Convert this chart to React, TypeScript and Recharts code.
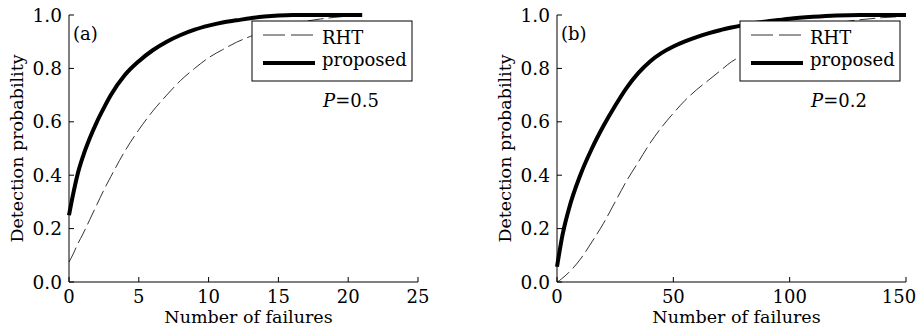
import React from 'react';
import { LineChart, Line, XAxis, YAxis, Label } from 'recharts';

// panel (a), P=0.5
const failuresA = [0, 0.3, 0.6, 1, 1.5, 2, 2.5, 3, 4, 5, 6, 7, 8, 9, 10, 11, 12, 13, 14, 15, 16, 17, 18, 19, 20, 21];
const proposedA = [0.25, 0.33, 0.4, 0.47, 0.54, 0.6, 0.652, 0.7, 0.775, 0.827, 0.868, 0.9, 0.925, 0.945, 0.96, 0.972, 0.98, 0.988, 0.994, 0.998, 1, 1, 1, 1, 1, 1];
const rhtA = [0.075, 0.105, 0.14, 0.18, 0.235, 0.29, 0.345, 0.395, 0.49, 0.57, 0.64, 0.7, 0.755, 0.8, 0.84, 0.87, 0.898, 0.92, 0.94, 0.955, 0.967, 0.977, 0.985, 0.991, 0.996, 1.0];

// panel (b), P=0.2
const failuresB = [0, 1, 2, 5, 10, 15, 20, 25, 30, 35, 40, 45, 50, 55, 60, 65, 70, 75, 80, 85, 90, 95, 100, 110, 120, 130, 140, 150];
const proposedB = [0.057, 0.11, 0.16, 0.27, 0.4, 0.5, 0.585, 0.66, 0.728, 0.783, 0.826, 0.858, 0.882, 0.901, 0.917, 0.931, 0.943, 0.953, 0.962, 0.97, 0.976, 0.981, 0.986, 0.993, 0.998, 1, 1, 1];
const rhtB = [0.0, 0.005, 0.012, 0.035, 0.085, 0.15, 0.22, 0.3, 0.38, 0.45, 0.52, 0.58, 0.632, 0.68, 0.72, 0.755, 0.79, 0.825, 0.85, 0.875, 0.895, 0.915, 0.93, 0.955, 0.97, 0.982, 0.99, 0.995];

const ticksA = [0, 5, 10, 15, 20, 25];
const ticksB = [0, 50, 100, 150];
const probTicks = [0, 0.2, 0.4, 0.6, 0.8, 1.0];

const FONT = "'DejaVu Serif', serif";
const titleStyle = { fontSize: 17.5, fill: '#000', fontFamily: FONT };
const noLabel = () => <g />;

const XTick = ({ x, y, payload }: any) => (
  // the 3-digit end label sits a bit left so it stays inside the page
  <text x={x} y={y} dy="0.71em" dx={payload.value >= 150 ? -7 : 0} textAnchor="middle"
    fontSize={18} fontFamily={FONT} fill="#000">
    {payload.value}
  </text>
);

const YTick = ({ x, y, payload }: any) => (
  <text x={x} y={y} dy="0.36em" textAnchor="end" fontSize={18.5} fontFamily={FONT} fill="#000">
    {Number(payload.value).toFixed(1)}
  </text>
);

interface PanelProps {
  xs: number[];
  proposed: number[];
  rht: number[];
  xTicks: number[];
  tag: string;
  p: string;
  width: number;
  marginLeft: number;
  marginRight: number;
}

function Panel({ xs, proposed, rht, xTicks, tag, p, width, marginLeft, marginRight }: PanelProps) {
  const data = xs.map((x, i) => ({ x, proposed: proposed[i], rht: rht[i] }));
  const xMax = xTicks[xTicks.length - 1];
  const plotLeft = marginLeft + 60;
  const lx = plotLeft + 183; // legend box left
  return (
    <div style={{ position: 'relative', width, height: 331 }}>
      <LineChart width={width} height={331} data={data}
        margin={{ top: 15, right: marginRight, bottom: 19, left: marginLeft }}>
        <XAxis dataKey="x" type="number" domain={[0, xMax]} ticks={xTicks} interval={0}
          height={30} tickSize={-5} tickMargin={13} tick={XTick}
          axisLine={{ stroke: '#000' }} tickLine={{ stroke: '#000' }}>
          <Label value="Number of failures" position="bottom" offset={-1} dx={5} style={titleStyle} />
        </XAxis>
        <XAxis xAxisId="top" orientation="top" dataKey="x" type="number" domain={[0, xMax]}
          ticks={xTicks} interval={0} height={0} tickSize={-5} tick={noLabel}
          axisLine={{ stroke: '#000' }} tickLine={{ stroke: '#000' }} />
        <YAxis type="number" domain={[0, 1]} ticks={probTicks} interval={0} width={60}
          tickSize={-5} tickMargin={12} tick={YTick}
          axisLine={{ stroke: '#000' }} tickLine={{ stroke: '#000' }}>
          <Label value="Detection probability" angle={-90} position="center" dx={-22}
            style={{ ...titleStyle, textAnchor: 'middle' }} />
        </YAxis>
        <YAxis yAxisId="right" orientation="right" type="number" domain={[0, 1]} ticks={probTicks}
          interval={0} width={0} tickSize={-5} tick={noLabel}
          axisLine={{ stroke: '#000' }} tickLine={{ stroke: '#000' }} />
        <Line dataKey="rht" type="monotone" stroke="#333" strokeWidth={1} strokeDasharray="16 5"
          dot={false} isAnimationActive={false} />
        <Line dataKey="proposed" type="monotone" stroke="#000" strokeWidth={4}
          dot={false} isAnimationActive={false} />
      </LineChart>
      <svg width={width} height={331} style={{ position: 'absolute', left: 0, top: 0, pointerEvents: 'none' }}
        fontFamily={FONT} fontSize={18}>
        <text x={plotLeft + 4} y={40}>{tag}</text>
        <rect x={lx} y={21} width={160} height={60} fill="#fff" stroke="#000" strokeWidth={1} />
        <line x1={lx + 11} x2={lx + 63} y1={35} y2={35} stroke="#333" strokeWidth={1} strokeDasharray="22 6" />
        <text x={lx + 70} y={44}>RHT</text>
        <line x1={lx + 11} x2={lx + 63} y1={63} y2={63} stroke="#000" strokeWidth={4} />
        <text x={lx + 70} y={66}>proposed</text>
        <text x={plotLeft + 254} y={107}>
          <tspan fontStyle="italic">P</tspan>={p}
        </text>
      </svg>
    </div>
  );
}

export default function App() {
  return (
    <div style={{ position: 'absolute', left: 0, top: 0, width: 922, height: 331, display: 'flex', background: '#fff' }}>
      <Panel xs={failuresA} proposed={proposedA} rht={rhtA} xTicks={ticksA} tag="(a)" p="0.5"
        width={460} marginLeft={9} marginRight={42} />
      <Panel xs={failuresB} proposed={proposedB} rht={rhtB} xTicks={ticksB} tag="(b)" p="0.2"
        width={462} marginLeft={37} marginRight={16} />
    </div>
  );
}
